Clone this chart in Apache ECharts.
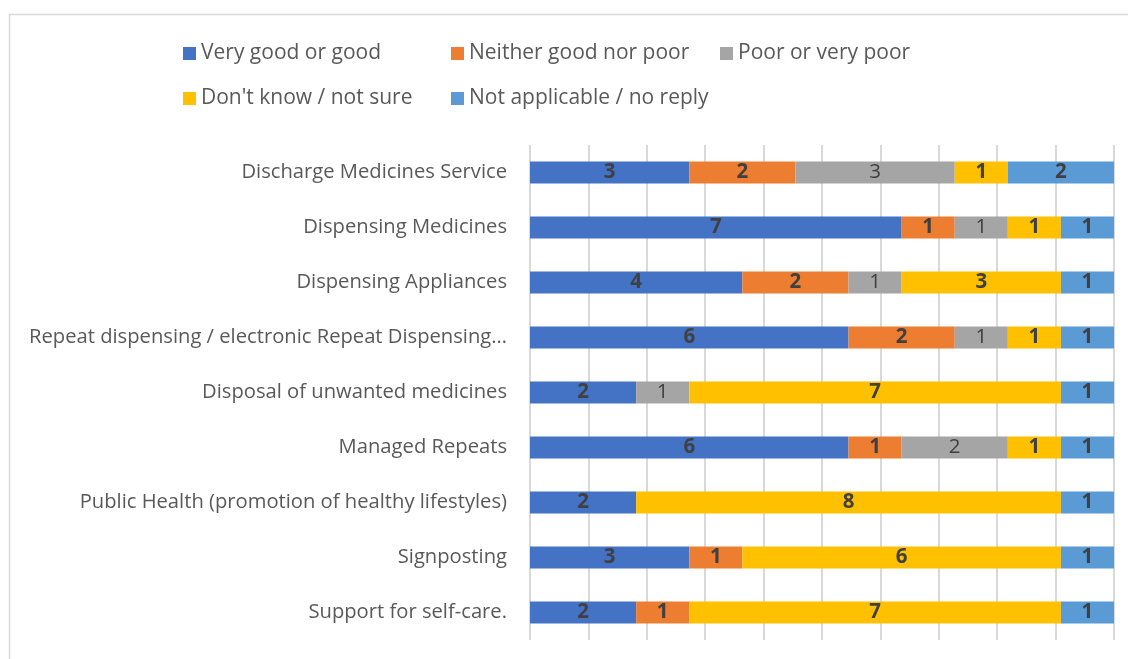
<!DOCTYPE html>
<html>
<head>
<meta charset="utf-8">
<script src="https://cdn.jsdelivr.net/npm/echarts@6/dist/echarts.min.js"></script>
<style>
html,body{margin:0;padding:0;background:#fff;}
#main{width:1128px;height:659px;}
</style>
</head>
<body>
<div id="main"></div>
<script>
const categories = [
  'Discharge Medicines Service',
  'Dispensing Medicines',
  'Dispensing Appliances',
  'Repeat dispensing / electronic Repeat Dispensing…',
  'Disposal of unwanted medicines',
  'Managed Repeats',
  'Public Health (promotion of healthy lifestyles)',
  'Signposting',
  'Support for self-care.'
];
const seriesNames = ['Very good or good','Neither good nor poor','Poor or very poor','Don\'t know / not sure','Not applicable / no reply'];
const veryGood      = [3, 7, 4, 6, 2, 6, 2, 3, 2];
const neither       = [2, 1, 2, 2, 0, 1, 0, 1, 1];
const poor          = [3, 1, 1, 1, 1, 2, 0, 0, 0];
const dontKnow      = [1, 1, 3, 1, 7, 1, 8, 6, 7];
const notApplicable = [2, 1, 1, 1, 1, 1, 1, 1, 1];

const colors = ['#4472C4','#ED7D31','#A5A5A5','#FFC000','#5B9BD5'];
const values = [veryGood, neither, poor, dontKnow, notApplicable];
const FONT = 'Open Sans';

const chart = echarts.init(document.getElementById('main'));
const legendPos = [[183,43],[451,43],[720,43],[183,88],[451,88]];
const option = {
  animation: false,
  textStyle: {fontFamily: FONT},
  graphic: [{
    type: 'rect', silent: true,
    shape: {x: 9.5, y: 14.5, width: 1300, height: 800},
    style: {fill: 'none', stroke: '#d9d9d9', lineWidth: 1.5}
  }],
  legend: seriesNames.map((n, i) => ({
    data: [n], left: legendPos[i][0], top: legendPos[i][1], padding: 0,
    itemWidth: 13, itemHeight: 13, itemGap: 6,
    icon: 'rect', selectedMode: false,
    textStyle: {color: '#595959', fontSize: 21, fontFamily: FONT}
  })),
  grid: {left: 530, right: 14, top: 145, bottom: 19, containLabel: false},
  xAxis: {
    type: 'value', min: 0, max: 11, interval: 1.1,
    axisLabel: {show: false}, axisTick: {show: false}, axisLine: {show: false},
    splitLine: {show: true, lineStyle: {color: '#d9d9d9', width: 2}}
  },
  yAxis: {
    type: 'category', data: categories, inverse: true,
    axisTick: {show: false},
    axisLine: {show: false},
    axisLabel: {color: '#595959', fontSize: 20.2, fontFamily: FONT, margin: 23}
  },
  series: seriesNames.map((n, i) => ({
    name: n, type: 'bar', stack: 'total', barWidth: 22,
    itemStyle: {color: colors[i]},
    label: {
      show: true, position: 'inside', color: '#404040', fontSize: 20.5,
      fontFamily: FONT, fontWeight: i === 2 ? 'normal' : 'bold',
      formatter: p => p.value ? p.value : ''
    },
    data: values[i]
  }))
};
chart.setOption(option);
</script>
</body>
</html>
